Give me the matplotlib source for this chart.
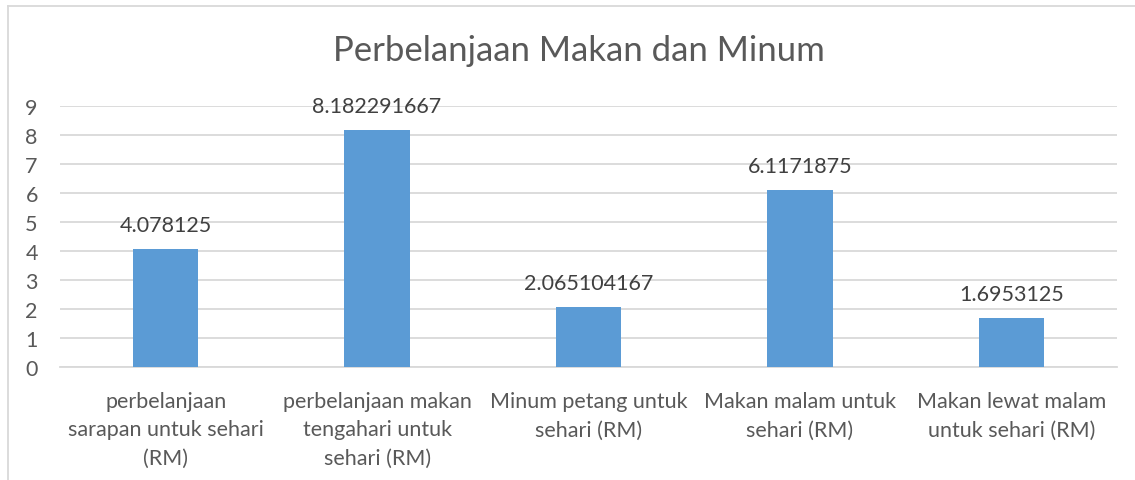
import matplotlib.pyplot as plt
from matplotlib.lines import Line2D

categories = [
    "perbelanjaan\nsarapan untuk sehari\n(RM)",
    "perbelanjaan makan\ntengahari untuk\nsehari (RM)",
    "Minum petang untuk\nsehari (RM)",
    "Makan malam untuk\nsehari (RM)",
    "Makan lewat malam\nuntuk sehari (RM)",
]
values = [4.078125, 8.182291667, 2.065104167, 6.1171875, 1.6953125]
value_labels = ["4.078125", "8.182291667", "2.065104167", "6.1171875", "1.6953125"]

plt.rcParams["font.family"] = ["Lato", "DejaVu Sans"]
text_color = "#595959"
grid_color = "#d9d9d9"

fig = plt.figure(figsize=(11.35, 4.81), dpi=100)
ax = fig.add_axes([60 / 1135, 1 - 368 / 481, (1117 - 60) / 1135, (368 - 107) / 481])

x = list(range(len(categories)))
ax.bar(x, values, width=0.31, color="#5b9bd5", zorder=3)

for xi, v, lab in zip(x, values, value_labels):
    ax.annotate(lab, (xi, v), xytext=(0, 10), textcoords="offset points",
                ha="center", va="bottom", fontsize=15.5, color="#404040")

ax.set_xlim(-0.5, len(categories) - 0.5)
ax.set_ylim(0, 9)
ax.set_yticks(range(0, 10))
ax.yaxis.grid(True, color=grid_color, linewidth=1.3, zorder=0)
ax.set_xticks(x)
ax.set_xticklabels(categories, fontsize=15.5, color=text_color, linespacing=1.55)
ax.tick_params(axis="x", length=0, pad=17)
ax.tick_params(axis="y", length=0, pad=16, labelsize=15.5, labelcolor=text_color)
for s in ["left", "right", "top"]:
    ax.spines[s].set_visible(False)
ax.spines["bottom"].set_color(grid_color)
ax.spines["bottom"].set_linewidth(1.3)

fig.text(579 / 1135, 1 - 51 / 481, "Perbelanjaan Makan dan Minum", ha="center", va="center",
         fontsize=25, color=text_color)

# chart border (left and top edges visible)
fig.add_artist(Line2D([8 / 1135, 8 / 1135], [0, 1 - 7 / 481], transform=fig.transFigure,
                      color=grid_color, linewidth=1.3))
fig.add_artist(Line2D([8 / 1135, 1], [1 - 7 / 481, 1 - 7 / 481], transform=fig.transFigure,
                      color=grid_color, linewidth=1.3))

fig.savefig("out.png", dpi=100)
